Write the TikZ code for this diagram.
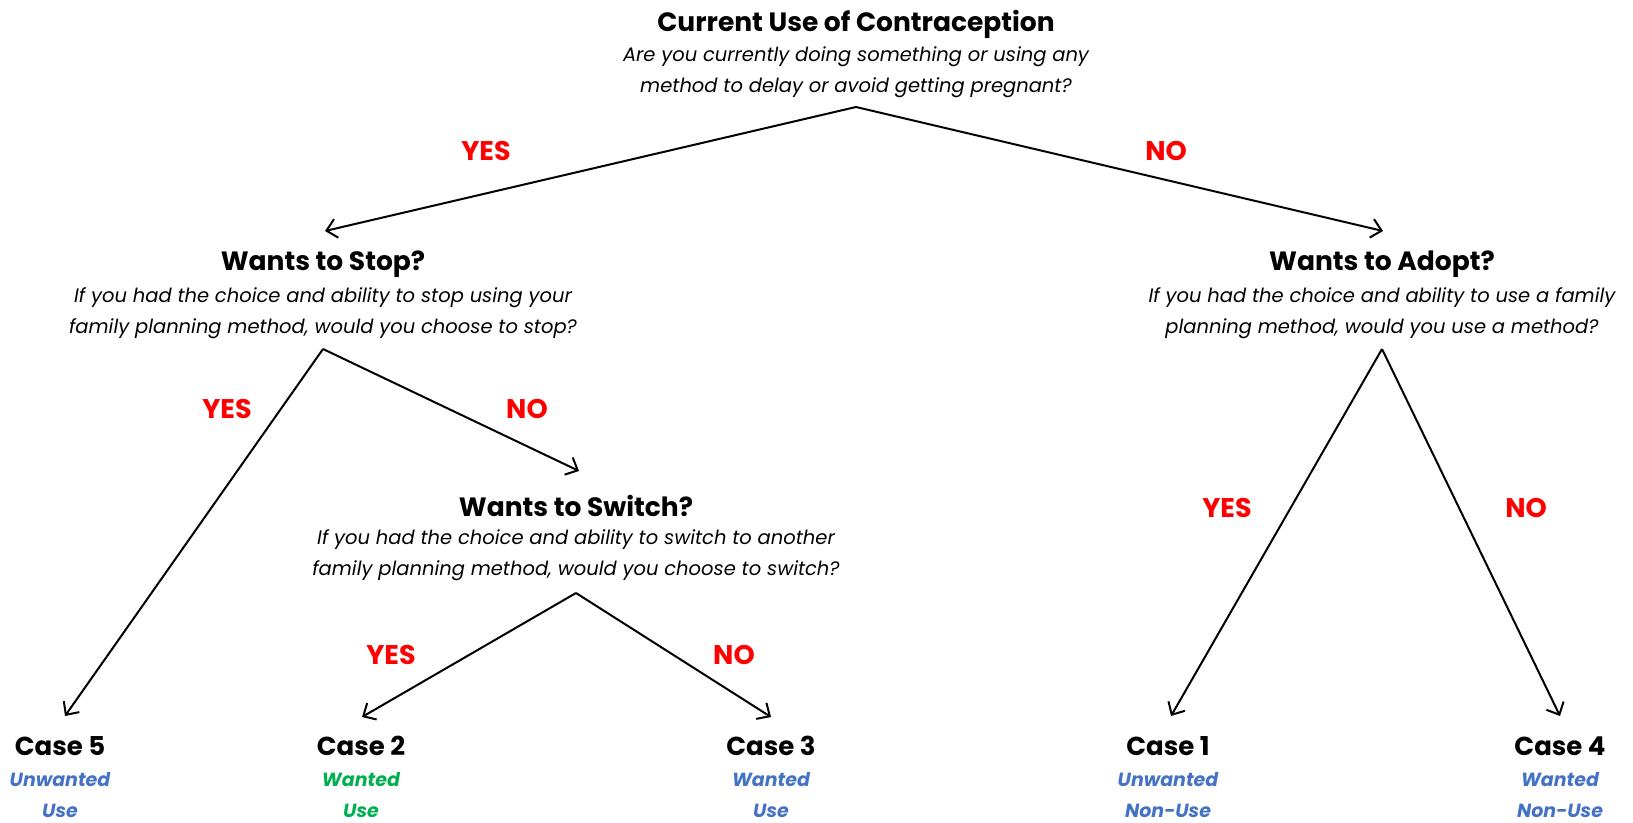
\documentclass[tikz,border=0pt]{standalone}
\usepackage{fontspec}
\setmainfont{Poppins}
\usetikzlibrary{arrows.meta}
\definecolor{ansred}{HTML}{FF0000}
\definecolor{casblue}{HTML}{4472C4}
\definecolor{casgreen}{HTML}{00B050}
\tikzset{
  ttl/.style={font=\fontsize{26.5}{30}\selectfont\bfseries, inner sep=0pt},
  qtxt/.style={font=\fontsize{19.5}{31}\selectfont\itshape, align=center, inner sep=0pt},
  ans/.style={font=\fontsize{27}{30}\selectfont\bfseries, text=ansred, inner sep=0pt},
  casettl/.style={font=\fontsize{26}{30}\selectfont\bfseries, inner sep=0pt},
  caselbl/.style={font=\fontsize{19}{31}\selectfont\bfseries\itshape, align=center, inner sep=0pt},
  arr/.style={line width=2pt, -{Straight Barb[length=10pt,width=19pt,line width=2pt]}},
}
\begin{document}
\begin{tikzpicture}[x=1pt,y=-1pt]
\useasboundingbox (0,0) rectangle (1633,822);
% top
\node[ttl] (t0) at (856,24) {Current Use of Contraception};
\node[qtxt] (q0) at (856,72) {Are you currently doing something or using any\\method to delay or avoid getting pregnant?};
\coordinate (a0) at (856,107);
% stop
\node[ttl] (t1) at (323,264) {Wants to Stop?};
\node[qtxt] (q1) at (323,313) {If you had the choice and ability to stop using your\\family planning method, would you choose to stop?};
\coordinate (a1) at (323,349);
\coordinate (e1) at (325,231);
% adopt
\node[ttl] (t2) at (1382,264) {Wants to Adopt?};
\node[qtxt] (q2) at (1382,313) {If you had the choice and ability to use a family\\planning method, would you use a method?};
\coordinate (a2) at (1382,349);
\coordinate (e2) at (1383,231);
% switch
\node[ttl] (t3) at (576,506) {Wants to Switch?};
\node[qtxt] (q3) at (576,555) {If you had the choice and ability to switch to another\\family planning method, would you choose to switch?};
\coordinate (a3) at (576,593);
\coordinate (e3) at (579,471);
% cases
\node[casettl] (c5) at (60,746) {Case 5};
\node[caselbl, text=casblue] (l5) at (60,795) {Unwanted\\Use};
\coordinate (e5) at (65,716);
\node[casettl] (c2) at (361,746) {Case 2};
\node[caselbl, text=casgreen] (l2) at (361,795) {Wanted\\Use};
\coordinate (e6) at (362,717);
\node[casettl] (c3) at (771,746) {Case 3};
\node[caselbl, text=casblue] (l3) at (771,795) {Wanted\\Use};
\coordinate (e7) at (771,717);
\node[casettl] (c1) at (1168,746) {Case 1};
\node[caselbl, text=casblue] (l1) at (1168,795) {Unwanted\\Non-Use};
\coordinate (e8) at (1171,716);
\node[casettl] (c4) at (1560,746) {Case 4};
\node[caselbl, text=casblue] (l4) at (1560,795) {Wanted\\Non-Use};
\coordinate (e9) at (1560,716);
% arrows
\draw[arr] (a0) -- (e1);
\draw[arr] (a0) -- (e2);
\draw[arr] (a1) -- (e5);
\draw[arr] (a1) -- (e3);
\draw[arr] (a3) -- (e6);
\draw[arr] (a3) -- (e7);
\draw[arr] (a2) -- (e8);
\draw[arr] (a2) -- (e9);
% answers
\node[ans] (y0) at (486,151) {YES};
\node[ans] (n0) at (1166,151) {NO};
\node[ans] (y1) at (227,409) {YES};
\node[ans] (n1) at (527,409) {NO};
\node[ans] (y3) at (391,655) {YES};
\node[ans] (n3) at (734,655) {NO};
\node[ans] (y2) at (1227,508) {YES};
\node[ans] (n2) at (1526,508) {NO};
\end{tikzpicture}
\end{document}
